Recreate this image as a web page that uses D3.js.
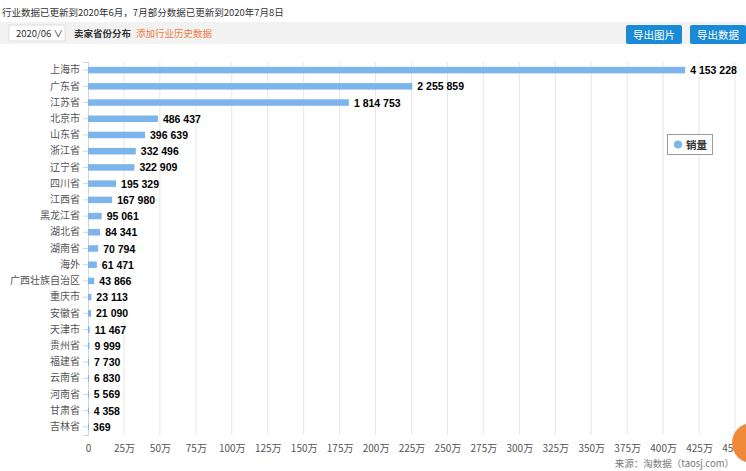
<!DOCTYPE html>
<html><head><meta charset="utf-8">
<script src="https://cdn.jsdelivr.net/npm/d3@7"></script>
<style>
body{margin:0;font-family:"Noto Sans CJK SC","Noto Sans",sans-serif;background:#fff;overflow:hidden}
</style></head>
<body>
<svg id="c" width="746" height="471"></svg>
<script>
var provinces = ["上海市","广东省","江苏省","北京市","山东省","浙江省","辽宁省","四川省","江西省","黑龙江省","湖北省","湖南省","海外","广西壮族自治区","重庆市","安徽省","天津市","贵州省","福建省","云南省","河南省","甘肃省","吉林省"];
var sales = [4153228,2255859,1814753,486437,396639,332496,322909,195329,167980,95061,84341,70794,61471,43866,23113,21090,11467,9999,7730,6830,5569,4358,369];
var ticks = [0,250000,500000,750000,1000000,1250000,1500000,1750000,2000000,2250000,2500000,2750000,3000000,3250000,3500000,3750000,4000000,4250000,4500000];

var svg = d3.select("#c");
var font = "'Noto Sans CJK SC',sans-serif";

// header
svg.append("text").attr("x", 2).attr("y", 16).attr("font-size", 9.5).attr("fill", "#333").attr("font-family", font)
  .text("行业数据已更新到2020年6月，7月部分数据已更新到2020年7月8日");
svg.append("rect").attr("x", 0).attr("y", 22).attr("width", 746).attr("height", 22).attr("fill", "#f2f2f2");
svg.append("rect").attr("x", 9).attr("y", 25).attr("width", 56).attr("height", 16).attr("fill", "#fff").attr("stroke", "#ddd");
svg.append("text").attr("x", 16).attr("y", 37).attr("font-size", 9.5).attr("fill", "#333").attr("font-family", font).text("2020/06 ∨");
svg.append("text").attr("x", 74).attr("y", 37).attr("font-size", 9.5).attr("fill", "#333").attr("font-weight", "bold").attr("font-family", font).text("卖家省份分布");
svg.append("text").attr("x", 136).attr("y", 37).attr("font-size", 9.5).attr("fill", "#f07a3a").attr("font-family", font).text("添加行业历史数据");
[["导出图片", 626], ["导出数据", 690]].forEach(function(b) {
  svg.append("rect").attr("x", b[1]).attr("y", 25).attr("width", 56).attr("height", 19).attr("rx", 2).attr("fill", "#1a8ad6");
  svg.append("text").attr("x", b[1] + 28).attr("y", 38.5).attr("text-anchor", "middle").attr("font-size", 10.5).attr("fill", "#fff").attr("font-family", font).text(b[0]);
});

var x = d3.scaleLinear().domain([0, 4500000]).range([88, 735]);
var y = d3.scaleBand().domain(provinces).range([62, 435]).paddingInner(0.6).paddingOuter(0.3);

// grid
svg.append("g").selectAll("line").data(ticks.slice(1)).enter().append("line")
  .attr("x1", function(d) { return x(d); }).attr("x2", function(d) { return x(d); })
  .attr("y1", 62).attr("y2", 435).attr("stroke", "#e6e6e6");

// y axis
var ya = svg.append("g").attr("transform", "translate(88,0)").call(d3.axisLeft(y).tickSize(5));
ya.select(".domain").attr("stroke", "#ccd6eb");
ya.selectAll(".tick line").attr("stroke", "#ccd6eb");
ya.selectAll("text").attr("font-size", 10).attr("fill", "#555").attr("font-family", font);

// x axis
var xa = svg.append("g").attr("transform", "translate(0,435)")
  .call(d3.axisBottom(x).tickValues(ticks).tickSize(0).tickPadding(10)
    .tickFormat(function(d) { return d === 0 ? "0" : (d / 10000) + "万"; }));
xa.select(".domain").remove();
xa.selectAll("text").attr("font-size", 10).attr("fill", "#555").attr("font-family", font);

// bars
svg.append("g").selectAll("rect").data(sales).enter().append("rect")
  .attr("x", x(0)).attr("y", function(d, i) { return y(provinces[i]); })
  .attr("width", function(d) { return Math.max(1, x(d) - x(0)); })
  .attr("height", y.bandwidth()).attr("fill", "#7cb5ec");

svg.append("g").selectAll("text").data(sales).enter().append("text")
  .attr("x", function(d) { return x(d) + 5; })
  .attr("y", function(d, i) { return y(provinces[i]) + y.bandwidth() / 2 + 4; })
  .attr("font-size", 10.5).attr("font-weight", "bold").attr("fill", "#000").attr("font-family", "'Liberation Sans',sans-serif")
  .text(function(d) { return d3.format(",")(d).replace(/,/g, " "); });

// legend
svg.append("rect").attr("x", 667.5).attr("y", 134.5).attr("width", 45).attr("height", 20).attr("fill", "#fff").attr("stroke", "#999");
svg.append("circle").attr("cx", 678).attr("cy", 144.5).attr("r", 4).attr("fill", "#7cb5ec");
svg.append("text").attr("x", 686).attr("y", 148.5).attr("font-size", 10.5).attr("font-weight", "bold").attr("fill", "#333").attr("font-family", font).text("销量");

// footer
svg.append("text").attr("x", 734).attr("y", 467).attr("text-anchor", "end").attr("font-size", 9.5).attr("fill", "#777").attr("font-family", font).text("来源：淘数据（taosj.com）");
svg.append("circle").attr("cx", 752).attr("cy", 443).attr("r", 20).attr("fill", "#f08a3a");
</script>
</body></html>
